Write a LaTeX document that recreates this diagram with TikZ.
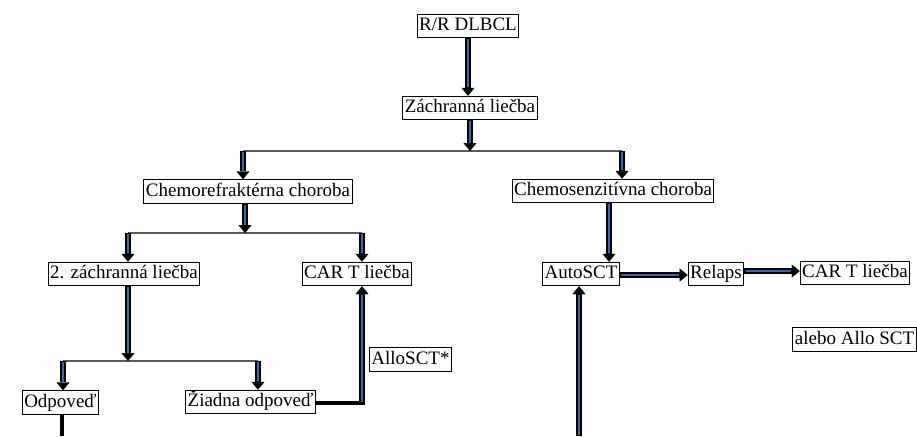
\documentclass[tikz,border=0pt]{standalone}
\usepackage{fontspec}
\setmainfont{Liberation Serif}
\usetikzlibrary{arrows.meta}
\definecolor{bblue}{RGB}{60,100,175}
\definecolor{bline}{RGB}{90,90,90}
\tikzset{
  box/.style={draw, line width=0.9pt, inner xsep=2pt, inner ysep=2.5pt,
    text height=14pt, text depth=4.5pt, font=\fontsize{19}{22}\selectfont},
  bouter/.style={draw=black, line width=5.5pt,
    -{Triangle[width=13pt,length=8pt,line width=0.4pt]}},
  binner/.style={draw=bblue, line width=2.2pt, shorten >=8.5pt, shorten <=1.2pt},
  bracket/.style={draw=bline, line width=1.5pt},
  thickblk/.style={draw=black, line width=4.5pt}
}
\newcommand{\barrow}[2]{%
  \draw[bouter] #1 -- #2;
  \draw[binner] #1 -- #2;}
\begin{document}
\begin{tikzpicture}[x=1pt,y=-1pt]
\useasboundingbox (0,0) rectangle (917,436);
% nodes
\node[box] (rr) at (468,26) {R/R DLBCL};
\node[box] (zl) at (470,108) {Záchranná liečba};
\node[box] (cref) at (248,191.5) {Chemorefraktérna choroba};
\node[box] (csen) at (613,191) {Chemosenzitívna choroba};
\node[box] (z2) at (124,274) {2. záchranná liečba};
\node[box] (cart1) at (357,274) {CAR T liečba};
\node[box] (auto) at (581,274) {AutoSCT};
\node[box] (relaps) at (716,274) {Relaps};
\node[box] (cart2) at (855,273) {CAR T liečba};
\node[box] (allo2) at (854.5,339.5) {alebo Allo SCT};
\node[box] (odp) at (60.5,402.5) {Odpoveď};
\node[box] (ziad) at (250.5,402) {Žiadna odpoveď};
\node[box] (allosct) at (410.5,359.5) {AlloSCT*};
% junction coordinates
\coordinate (j1) at (470,151);
\coordinate (j1l) at (243,151);
\coordinate (j1r) at (622,151);
\coordinate (j2) at (245,233);
\coordinate (j2l) at (128,233);
\coordinate (j2r) at (362,233);
\coordinate (j3) at (128,361);
\coordinate (j3l) at (63,361);
\coordinate (j3r) at (258,361);
\coordinate (zc) at (362,403);
\coordinate (odpend) at (62,436);
\coordinate (autobot) at (579,436);
% bracket lines
\draw[bracket] (j1l) -- (j1r);
\draw[bracket] (j2l) -- (j2r);
\draw[bracket] (j3l) -- (j3r);
% thick black lines
\draw[thickblk] (odp.south -| odpend) -- (odpend);
\draw[thickblk] (ziad.east |- zc) -- ([xshift=2.75pt]zc);
% block arrows
\barrow{(rr.south)}{(rr.south |- zl.north)}
\barrow{(zl.south)}{(j1)}
\barrow{(j1l)}{(j1l |- cref.north)}
\barrow{(j1r)}{(j1r |- csen.north)}
\barrow{(cref.south -| j2)}{(j2)}
\barrow{(j2l)}{(j2l |- z2.north)}
\barrow{(j2r)}{(j2r |- cart1.north)}
\barrow{(z2.south -| j3)}{(j3)}
\barrow{(j3l)}{(j3l |- odp.north)}
\barrow{(j3r)}{(j3r |- ziad.north)}
\barrow{(zc)}{(zc |- cart1.south)}
\barrow{([xshift=-4pt]csen.south)}{([xshift=-4pt]csen.south |- auto.north)}
\barrow{(autobot)}{(autobot |- auto.south)}
\barrow{([yshift=-1pt]auto.east)}{([yshift=-1pt]auto.east -| relaps.west)}
\barrow{([yshift=3pt]relaps.east)}{([yshift=3pt]relaps.east -| cart2.west)}
\end{tikzpicture}
\end{document}
